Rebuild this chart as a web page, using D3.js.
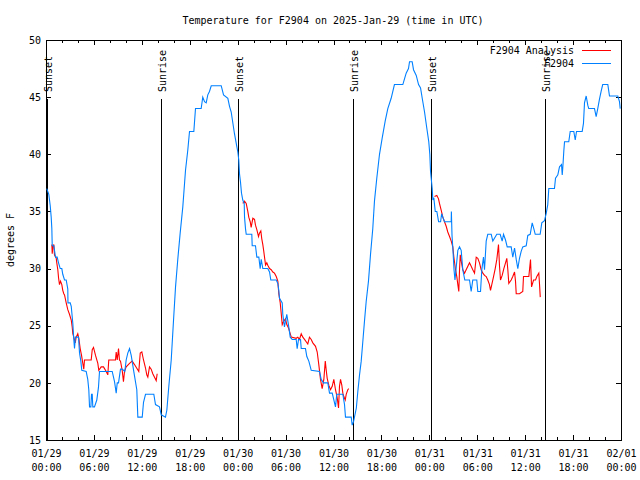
<!DOCTYPE html>
<html><head><meta charset="utf-8">
<script src="https://cdn.jsdelivr.net/npm/d3@7"></script>
<style>
body{margin:0;background:#fff}
text{font-family:"DejaVu Sans Mono","Liberation Mono",monospace;font-size:10px;fill:#000}
</style></head><body>
<svg id="c" width="640" height="480"></svg>
<script>
const title = "Temperature for F2904 on 2025-Jan-29 (time in UTC)";
const yLabel = "degrees F";
const yTicks = [15,20,25,30,35,40,45,50];
const xMajorHours = [0,6,12,18,24,30,36,42,48,54,60,66,72];
const xTickDate = ["01/29","01/29","01/29","01/29","01/30","01/30","01/30","01/30","01/31","01/31","01/31","01/31","02/01"];
const xTickTime = ["00:00","06:00","12:00","18:00","00:00","06:00","12:00","18:00","00:00","06:00","12:00","18:00","00:00"];
const xMinorHours = d3.range(0,73,2);
const eventHours = [0.1,14.42,24.1,38.44,48.15,62.44];
const eventLabels = ["Sunset","Sunrise","Sunset","Sunrise","Sunset","Sunrise"];
const seriesNames = ["F2904 Analysis","F2904"];
const seriesColors = ["#ff0000","#0080ff"];

// F2904 observations: hours since 2025-01-29 00:00 UTC, temperature (F)
const obsHour = [0.10,0.35,0.53,0.65,0.73,0.78,0.98,1.19,1.40,1.57,1.78,1.98,2.10,2.32,2.53,2.73,2.75,3.03,3.16,3.36,3.48,3.57,3.69,4.07,4.20,4.36,4.48,5.03,5.23,5.36,5.45,5.62,5.70,5.79,5.86,6.07,6.36,6.57,6.70,8.29,8.58,8.79,8.92,9.08,9.33,9.54,9.87,10.04,10.24,10.46,10.67,10.99,11.37,11.50,12.05,12.21,12.46,13.50,13.71,14.21,14.43,14.96,15.13,15.38,15.68,15.97,16.22,16.50,16.80,17.13,17.47,17.76,17.97,18.51,18.72,19.43,19.63,19.85,20.06,20.26,20.47,20.69,21.94,22.23,22.77,22.98,23.19,23.60,23.89,24.02,24.14,24.23,24.35,24.48,24.64,24.82,24.86,24.98,25.07,25.77,25.82,26.23,26.40,26.65,26.82,26.95,27.15,27.77,27.99,28.15,28.83,29.03,29.15,29.24,29.58,29.65,29.86,30.15,30.40,30.58,30.83,31.33,31.45,31.62,31.87,31.96,32.49,32.66,32.91,33.21,34.25,34.46,34.75,35.29,35.50,35.84,36.25,36.41,37.17,37.38,37.50,38.22,38.34,38.51,38.86,39.04,39.26,39.47,39.67,39.88,40.09,40.38,40.63,40.92,41.13,41.42,41.76,42.09,42.47,42.80,43.22,43.63,44.68,44.89,45.10,45.39,45.52,45.85,46.02,46.36,46.65,46.90,47.11,47.40,47.68,47.93,48.06,48.15,48.36,48.44,48.56,48.68,48.74,48.94,49.16,49.41,49.54,49.69,49.90,50.74,50.76,50.84,50.96,51.09,51.21,51.38,51.57,51.78,51.99,52.19,52.44,53.03,53.24,53.44,53.94,54.07,54.41,54.57,54.78,54.91,55.12,55.32,55.75,55.95,56.45,56.87,57.12,57.29,57.54,57.75,58.25,58.45,58.67,58.88,59.08,59.29,59.50,59.70,60.13,60.33,60.63,60.88,61.08,61.26,61.88,62.08,62.42,62.63,62.83,62.96,63.67,63.80,64.09,64.30,64.55,64.64,64.71,64.84,64.93,65.46,65.64,66.09,66.27,66.43,67.14,67.30,67.43,67.64,67.84,67.96,68.68,68.89,69.09,69.30,69.51,69.71,70.35,70.56,71.60,71.81,71.90];
const obsTemp = [37.0,36.5,35.5,34.5,33.5,32,32,31,31,30.5,30,30,29.5,29,29,28.2,27,27,26.7,25.2,23.8,23,24,24,22.6,21.9,21.1,21,20.3,19.4,17.9,17.9,19,19,17.9,17.9,18.5,19.6,21,21,20.1,19.1,20,20,21.2,21.2,21,22,22.6,23,22.4,21,19.4,17,17,18.3,19,19,18.1,17.9,17.2,17,17.6,19.7,22,25.5,28.4,30.8,33.1,35.4,38.6,40.4,42,42,44,44,45,44.6,44.5,45.2,45.5,46,46,45.2,44.9,44.2,43.7,41.8,40.7,40.2,39.5,38.3,37.6,36.6,36,35.7,34.5,33.5,33,33,32,32,31,31,30,30.8,30,30,29.7,29,29,28.7,28.1,27.4,27,26,24.9,26,24.9,24,23.8,23.8,23,23.8,23.8,23,23,22.3,21.9,21.1,21,20.3,20,20,19.1,19.1,17.9,19,19,18.1,17,17,16.3,16.6,17.8,19.2,20.7,21.9,23.6,25.4,27.1,28.9,31.2,33.5,35.9,37.9,40,41.4,42.9,44,44.9,46.1,46.1,46.6,47.1,47.5,48.1,48.1,47.4,46.9,46.1,45.8,44.9,43.7,42.3,41.1,40,38.5,37,36,36.2,35.4,35,35,34.1,34.1,34.8,34.5,34.1,34.1,35,32.9,31.6,29.9,29,30.2,31.6,31.9,31.6,29.9,29,29,28,29,29,28,28,29.9,31,29.9,32.4,33,33,32.4,33,33,32.4,33,32.5,31.9,31.9,31,31.8,30.8,30,30.9,31.5,31.9,32,32.9,33,34,33.5,33,33,34,34.2,34.8,35.6,37,37,37.9,38.2,38.9,39.1,38.2,38.8,40.3,41.1,41.1,42,42,41.25,42,42,42.7,44.5,45.1,44.3,44,44,43.3,44,44.8,45.5,46.1,46.1,45.1,45.1,44.6,44];

// F2904 Analysis: hours, temperature; null marks a gap
const anaHour = [0.73,0.78,0.85,0.98,1.06,1.28,1.35,1.48,1.57,1.69,1.82,1.98,2.10,2.23,2.32,2.53,2.73,2.94,3.16,3.28,3.36,3.48,3.66,3.78,3.98,4.11,4.28,4.45,4.61,4.73,4.82,5.66,5.79,5.95,6.20,6.49,6.61,6.91,7.20,7.54,7.74,7.86,8.70,8.79,8.92,9.08,9.20,9.33,9.54,9.70,9.83,10.04,10.46,10.79,11.08,11.62,11.80,12.00,12.21,12.46,12.62,12.75,12.96,13.17,13.37,13.59,13.80,13.92,
  null,
  24.64,24.86,25.07,25.27,25.39,25.57,25.69,25.90,26.11,26.23,26.40,26.61,26.73,26.90,27.02,27.15,27.27,27.40,27.49,27.65,27.77,27.99,28.20,28.40,28.61,28.83,29.03,29.15,29.33,29.45,29.58,29.78,29.99,30.15,30.37,30.58,30.71,31.33,31.53,31.74,31.96,32.16,32.37,32.58,32.78,32.99,33.21,33.41,33.75,33.96,34.16,34.37,34.58,34.79,34.97,35.09,35.21,35.41,35.63,35.84,36.04,36.25,36.46,36.63,36.75,36.88,37.04,37.17,37.29,37.47,37.59,37.79,37.92,
  null,
  48.65,48.94,49.15,49.27,49.49,49.69,49.90,50.11,50.31,50.53,50.74,50.94,51.07,51.28,51.44,51.57,51.69,51.78,51.87,52.03,52.19,52.41,52.61,52.82,53.03,53.24,53.44,53.66,53.87,54.07,54.28,54.49,54.70,54.91,55.12,55.32,55.53,55.66,55.82,56.04,56.25,56.45,56.66,56.79,56.91,57.12,57.33,57.54,57.70,57.83,57.95,58.25,58.45,58.67,58.79,58.88,59.29,59.70,59.79,60.46,60.67,60.80,61.05,61.30,61.46,61.71,61.80,61.89];
const anaTemp = [32.1,31.3,31.9,32.1,31.2,30.9,30.5,29.9,29.2,28.6,28.9,28.6,28.1,27.8,27.7,27,26.4,26,25.5,24.9,24.3,24,23.5,24,24.3,23.9,23,22.4,21.7,21.2,22,22,22.9,23.1,22.4,21.7,21.1,21.4,21.4,21,20.7,22,22,22.7,22,23,22,21.9,21.1,20.1,21,21.4,21.7,21.9,21.6,21,22.6,22.7,22,21.3,20.7,20.5,21.4,21.2,20.8,20.5,20.2,20.8,
  null,
  35.7,35.9,35.7,35,34.5,34.1,33.6,34.4,34.3,33.8,33.4,32.8,33.1,33.3,32.6,32.1,31.5,30.8,30.3,30.5,30.3,30,29.9,29.7,29.6,29.3,28.9,27.8,27,26.1,25.1,25.4,25.6,25.1,24.8,24.3,24,23.9,24,23.8,24.3,24,23.8,23.6,23.4,24,23.8,23.5,23.2,22.7,21.6,20.3,19.5,20.3,21.9,21.1,20.4,19.8,19.4,19.7,20.3,19.4,18.7,17.8,19.7,20.3,19.8,19.1,18.8,18.5,19,19.4,19.5,
  null,
  36.3,36.4,36.1,35.7,35.1,34.5,34.1,33.7,33.2,32.8,32.4,31.9,31,29.9,29.3,28.6,28,29.9,31.2,30.5,29.9,29.6,29.9,30.2,30.5,30.2,29.9,29.6,31,30.9,30.5,29.9,29.6,29.4,29.3,29,28.6,28.1,28.6,29.3,30,30.8,32.1,30.2,29,29.4,30,30.5,30.9,29.9,28.7,29,29.3,29.7,28.9,27.8,27.8,28,29.3,29.3,30.8,28.4,29,29,29.3,29.6,28.6,27.5];

const L=46, R=621, T=40, B=440;
const x = d3.scaleLinear().domain([0,72]).range([L,R]);
const y = d3.scaleLinear().domain([15,50]).range([B,T]);
const svg = d3.select("#c");

svg.append("text").attr("x",333).attr("y",24).attr("text-anchor","middle").text(title);
svg.append("text").attr("transform","translate(14,240) rotate(-90)").attr("text-anchor","middle").text(yLabel);

// sunrise / sunset markers
eventHours.forEach((h,i)=>{
  const px = Math.round(x(h)) + 0.5;
  svg.append("line").attr("x1",px).attr("x2",px).attr("y1",99).attr("y2",B)
    .attr("stroke","#000").attr("stroke-width",1).attr("shape-rendering","crispEdges");
  svg.append("text").attr("transform",`translate(${px+4},92) rotate(-90)`).text(eventLabels[i]);
});

// axes
const gx = svg.append("g").attr("transform",`translate(0,${B})`);
gx.call(d3.axisBottom(x).tickValues(xMinorHours).tickSize(-3).tickFormat(""));
gx.select(".domain").remove();
const gx2 = svg.append("g").attr("transform",`translate(0,${B})`);
gx2.call(d3.axisBottom(x).tickValues(xMajorHours).tickSize(-5).tickPadding(0));
gx2.select(".domain").remove();
gx2.selectAll(".tick text").each(function(d,i){
  const t = d3.select(this);
  t.text(null).attr("dy",null).attr("y",null);
  t.append("tspan").attr("x",0).attr("y",16.5).text(xTickDate[i]);
  t.append("tspan").attr("x",0).attr("y",30.5).text(xTickTime[i]);
});
const gt = svg.append("g").attr("transform",`translate(0,${T})`);
gt.call(d3.axisTop(x).tickValues(xMinorHours).tickSize(-3).tickFormat(""));
gt.select(".domain").remove();
const gt2 = svg.append("g").attr("transform",`translate(0,${T})`);
gt2.call(d3.axisTop(x).tickValues(xMajorHours).tickSize(-5).tickFormat(""));
gt2.select(".domain").remove();

const gy = svg.append("g").attr("transform",`translate(${L},0)`);
gy.call(d3.axisLeft(y).tickValues(yTicks).tickSize(-5).tickPadding(5).tickFormat(d3.format("d")));
gy.select(".domain").remove();
const gyr = svg.append("g").attr("transform",`translate(${R},0)`);
gyr.call(d3.axisRight(y).tickValues(yTicks).tickSize(-5).tickFormat(""));
gyr.select(".domain").remove();
svg.selectAll(".tick line").attr("shape-rendering","crispEdges");

svg.append("rect").attr("x",L+0.5).attr("y",T+0.5).attr("width",R-L).attr("height",B-T)
  .attr("fill","none").attr("stroke","#000").attr("shape-rendering","crispEdges");

// series
const line = d3.line().defined(d=>d[0]!=null && d[1]!=null).x(d=>x(d[0])).y(d=>y(d[1]));
const anaData = anaHour.map((h,i)=>[h,anaTemp[i]]);
const obsData = obsHour.map((h,i)=>[h,obsTemp[i]]);
svg.append("path").datum(anaData).attr("d",line).attr("fill","none")
  .attr("stroke",seriesColors[0]).attr("stroke-width",1.1);
svg.append("path").datum(obsData).attr("d",line).attr("fill","none")
  .attr("stroke",seriesColors[1]).attr("stroke-width",1.1);

// legend
seriesNames.forEach((n,i)=>{
  const ly = 50 + i*13;
  svg.append("text").attr("x",574).attr("y",ly+4).attr("text-anchor","end").text(n);
  svg.append("line").attr("x1",582).attr("x2",611).attr("y1",ly+0.5).attr("y2",ly+0.5)
    .attr("stroke",seriesColors[i]).attr("stroke-width",1).attr("shape-rendering","crispEdges");
});
</script>
</body></html>
